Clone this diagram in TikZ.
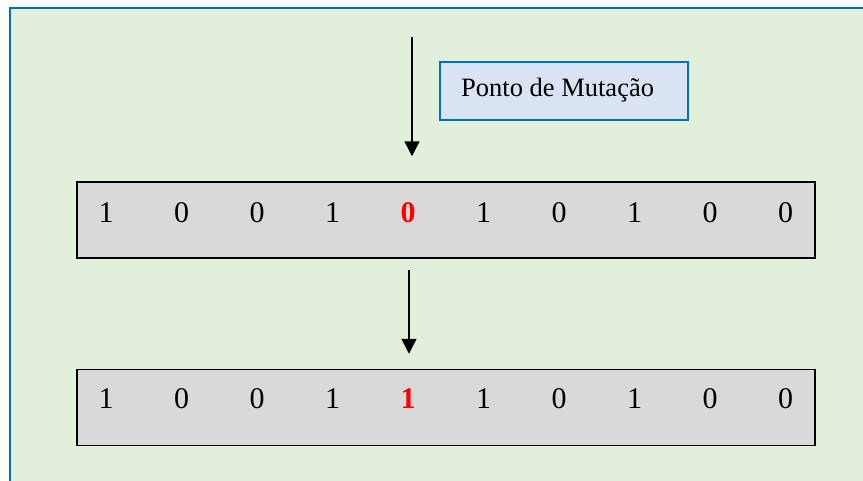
\documentclass[tikz,border=0pt]{standalone}
\usepackage{fontspec}
\setmainfont{Liberation Serif}
\usetikzlibrary{arrows.meta}
\definecolor{bggreen}{HTML}{E2EFDA}
\definecolor{frameblue}{HTML}{0070C0}
\definecolor{labelblue}{HTML}{DAE3F3}
\definecolor{boxgray}{HTML}{D9D9D9}
\tikzset{
  bitbox/.style={draw=black, line width=1.5pt, fill=boxgray, minimum width=738pt, minimum height=76pt, inner sep=0pt},
  bit/.style={font=\fontsize{30}{30}\selectfont, anchor=base, inner sep=0pt},
  flip/.style={bit, text=red, font=\fontsize{30}{30}\selectfont\bfseries},
  pointer/.style={line width=1.5pt, -{Triangle[width=15pt,length=15pt]}},
  labelbox/.style={draw=frameblue, line width=1.5pt, fill=labelblue, minimum width=248pt, minimum height=58pt, inner sep=0pt, font=\fontsize{26.5}{26.5}\selectfont}
}
\begin{document}
\begin{tikzpicture}[x=1pt,y=-1pt]
\useasboundingbox (0,0) rectangle (863,480);
\clip (0,0) rectangle (863,480);
\draw[frameblue, line width=2pt, fill=bggreen] (10,8) rectangle (880,500);
% label
\node[labelbox] (lbl) at (564,91) {};
\node[anchor=base west, inner sep=0pt, font=\fontsize{26.5}{26.5}\selectfont] (lbltext) at (461,96) {Ponto de Mutação};
% boxes
\node[bitbox] (box1) at (446,220) {};
\node[bitbox] (box2) at (446,407.5) {};
% bits
\foreach \v [count=\i] in {1,0,0,1,X,1,0,1,0,0}{
  \pgfmathsetmacro{\xx}{106+(\i-1)*75.5}
  \ifnum\i=5
    \node[flip] (a\i) at (\xx,222) {0};
    \node[flip] (b\i) at (\xx,408) {1};
  \else
    \node[bit] (a\i) at (\xx,222) {\v};
    \node[bit] (b\i) at (\xx,408) {\v};
  \fi
}
% arrows
\coordinate (top) at (412,37);
\draw[pointer, shorten >=25pt] (top) -- (top |- box1.north);
\coordinate (mid) at (409,270);
\draw[pointer, shorten >=15pt] (mid) -- (mid |- box2.north);
\end{tikzpicture}
\end{document}
